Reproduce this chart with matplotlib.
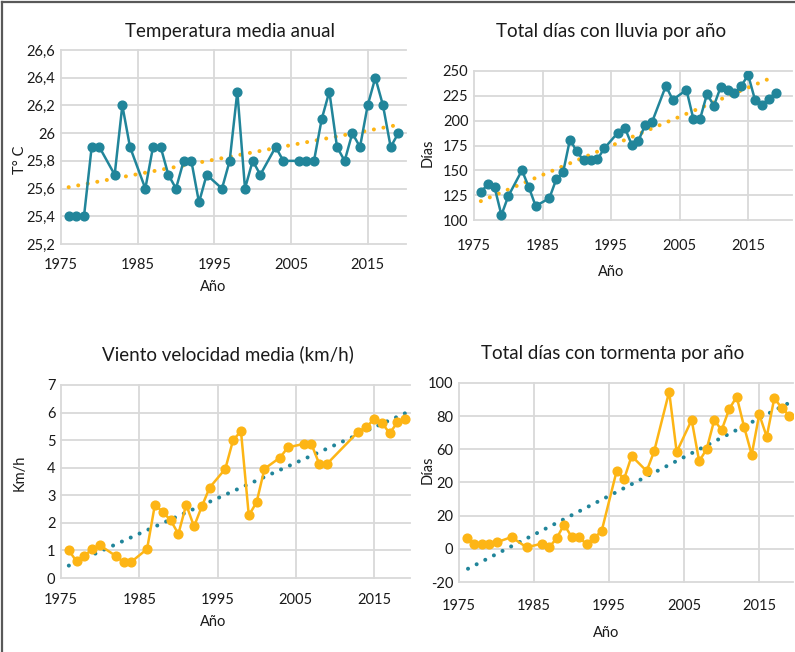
import matplotlib
matplotlib.use("Agg")
import matplotlib.pyplot as plt
from matplotlib.lines import Line2D

plt.rcParams["font.family"] = ["Lato", "DejaVu Sans"]

TEAL = "#21859A"
ORANGE = "#FDB515"
GRID = "#D9D9D9"
TXT = "#1a1a1a"

# ---- data ----
years_a = [1976, 1977, 1978, 1979, 1980, 1982, 1983, 1984, 1986, 1987, 1988, 1989, 1990,
           1991, 1992, 1993, 1994, 1996, 1997, 1998, 1999, 2000, 2001, 2003, 2004, 2006,
           2007, 2008, 2009, 2010, 2011, 2012, 2013, 2014, 2015, 2016, 2017, 2018, 2019]
temp = [25.4, 25.4, 25.4, 25.9, 25.9, 25.7, 26.2, 25.9, 25.6, 25.9, 25.9, 25.7, 25.6,
        25.8, 25.8, 25.5, 25.7, 25.6, 25.8, 26.3, 25.6, 25.8, 25.7, 25.9, 25.8, 25.8,
        25.8, 25.8, 26.1, 26.3, 25.9, 25.8, 26.0, 25.9, 26.2, 26.4, 26.2, 25.9, 26.0]
lluvia = [128, 136, 133, 105, 124, 150, 133, 114, 122, 141, 148, 181, 169,
          160, 160, 161, 172, 188, 193, 176, 180, 196, 199, 235, 221, 231,
          202, 202, 227, 215, 234, 231, 228, 235, 246, 221, 216, 222, 228]

years_viento = [1976, 1977, 1978, 1979, 1980, 1982, 1983, 1984, 1986, 1987, 1988, 1989,
                1990, 1991, 1992, 1993, 1994, 1996, 1997, 1998, 1999, 2000, 2001, 2003,
                2004, 2006, 2007, 2008, 2009, 2013, 2014, 2015, 2016, 2017, 2018, 2019]
viento = [1.0, 0.6, 0.8, 1.06, 1.18, 0.8, 0.57, 0.59, 1.05, 2.66, 2.39, 2.1,
          1.6, 2.66, 1.87, 2.6, 3.28, 3.96, 5.01, 5.32, 2.27, 2.75, 3.96, 4.37,
          4.74, 4.86, 4.86, 4.14, 4.14, 5.31, 5.47, 5.76, 5.63, 5.25, 5.65, 5.76]

years_tormenta = [1976, 1977, 1978, 1979, 1980, 1982, 1984, 1986, 1987, 1988, 1989, 1990,
                  1991, 1992, 1993, 1994, 1996, 1997, 1998, 2000, 2001, 2003, 2004, 2006,
                  2007, 2008, 2009, 2010, 2011, 2012, 2013, 2014, 2015, 2016, 2017, 2018, 2019]
tormenta = [6.5, 3.1, 3.1, 2.9, 3.9, 7.1, 0.9, 3.1, 0.9, 6.3, 14.6, 7.3,
            6.9, 2.7, 6.7, 10.6, 46.9, 42.1, 56.0, 46.9, 58.8, 94.8, 58.4, 77.7,
            52.8, 60.2, 77.5, 71.7, 84.3, 91.7, 73.3, 56.8, 81.1, 67.6, 90.7, 85.1, 80.3]

# trend line end points
trend_temp_x, trend_temp_y = [1976, 2019], [25.61, 26.06]
trend_lluvia_x, trend_lluvia_y = [1976, 2019], [119, 245]
trend_viento_x, trend_viento_y = [1976, 2019.4], [0.45, 6.03]
trend_tormenta_x, trend_tormenta_y = [1976.2, 2019.4], [-12, 89]

xticks = [1975, 1985, 1995, 2005, 2015]
temp_ticks = [25.2, 25.4, 25.6, 25.8, 26.0, 26.2, 26.4, 26.6]
temp_labels = ["25,2", "25,4", "25,6", "25,8", "26", "26,2", "26,4", "26,6"]
lluvia_ticks = [100, 125, 150, 175, 200, 225, 250]
viento_ticks = [0, 1, 2, 3, 4, 5, 6, 7]
tormenta_ticks = [-20, 0, 20, 40, 60, 80, 100]
tormenta_labels = ["-20", "0", "20", "20", "60", "80", "100"]

W, H = 795, 652
fig = plt.figure(figsize=(W / 100, H / 100), dpi=100)


def px_axes(l, r, t, b):
    return fig.add_axes([l / W, 1 - b / H, (r - l) / W, (b - t) / H])


def style(ax, xlim, yticks, ylabels=None, xpad=9):
    ax.set_xlim(*xlim)
    ax.set_ylim(yticks[0], yticks[-1])
    ax.set_xticks(xticks)
    ax.set_yticks(yticks)
    if ylabels is not None:
        ax.set_yticklabels(ylabels)
    for s in ax.spines.values():
        s.set_visible(False)
    ax.grid(True, color=GRID, linewidth=1.3)
    for gl in ax.get_xgridlines() + ax.get_ygridlines():
        gl.set_clip_on(False)
    ax.set_axisbelow(True)
    ax.tick_params(length=0, labelsize=10.5, labelcolor=TXT)
    ax.tick_params(axis="x", pad=xpad)
    ax.tick_params(axis="y", pad=4)


def series(ax, x, y, color):
    ax.plot(x, y, color=color, linewidth=1.8, marker="o", markersize=6.3, zorder=3)


def trend(ax, x, y, color):
    ax.plot(x, y, color=color, linewidth=2.9, linestyle=(0, (0.01, 2.4)),
            dash_capstyle="round", zorder=2)


ax1 = px_axes(61, 406, 50, 244)
trend(ax1, trend_temp_x, trend_temp_y, ORANGE)
series(ax1, years_a, temp, TEAL)
style(ax1, (1975, 2020), temp_ticks, temp_labels, xpad=10)

ax2 = px_axes(474, 792, 71, 220)
trend(ax2, trend_lluvia_x, trend_lluvia_y, ORANGE)
series(ax2, years_a, lluvia, TEAL)
style(ax2, (1975, 2021.4), lluvia_ticks, xpad=14)

ax3 = px_axes(61, 410, 385, 578)
trend(ax3, trend_viento_x, trend_viento_y, TEAL)
series(ax3, years_viento, viento, ORANGE)
style(ax3, (1975, 2019.6), viento_ticks, xpad=11)

ax4 = px_axes(459, 793, 383, 582)
trend(ax4, trend_tormenta_x, trend_tormenta_y, TEAL)
series(ax4, years_tormenta, tormenta, ORANGE)
style(ax4, (1975, 2019.5), tormenta_ticks, tormenta_labels, xpad=12)


def ftext(x, y, s, size, rot=0):
    fig.text(x / W, 1 - y / H, s, ha="center", va="center", fontsize=size,
             color=TXT, rotation=rot)


ftext(230, 31, "Temperatura media anual", 13.5)
ftext(611, 31, "Total días con lluvia por año", 13.5)
ftext(228, 354, "Viento velocidad media (km/h)", 13.5)
ftext(613, 354, "Total días con tormenta por año", 13.5)

ftext(213, 287, "Año", 10.5)
ftext(611, 272, "Año", 10.5)
ftext(213, 622, "Año", 10.5)
ftext(606, 633, "Año", 10.5)

ftext(20, 160, "T° C", 10.5, 90)
ftext(428, 153, "Días", 10.5, 90)
ftext(20, 473, "Km/h", 10.5, 90)
ftext(428, 470, "Días", 10.5, 90)

# outer frame (left and top edges are visible in the reference)
fig.add_artist(Line2D([2 / W, 2 / W], [0, 1 - 2 / H], color="#595959", linewidth=1.6))
fig.add_artist(Line2D([2 / W, 1], [1 - 2 / H, 1 - 2 / H], color="#595959", linewidth=1.6))

fig.savefig("out.png", dpi=100)
